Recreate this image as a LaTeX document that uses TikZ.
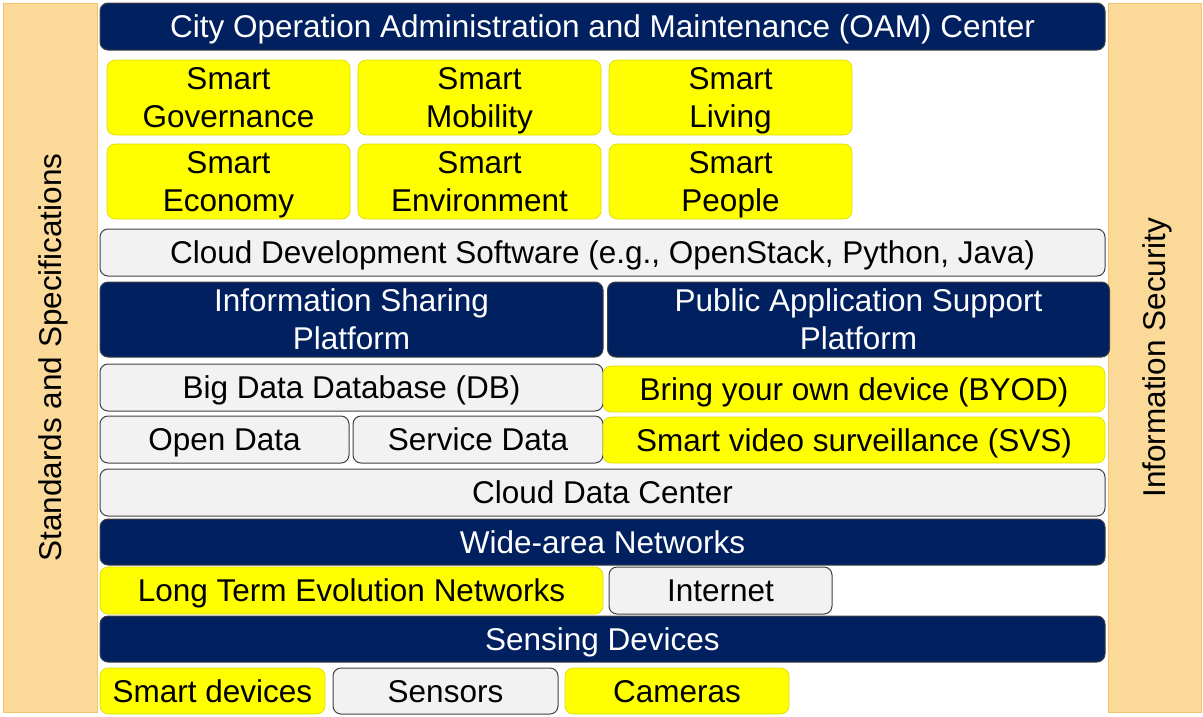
\documentclass[tikz,border=0pt]{standalone}
\usepackage{fontspec}
\setmainfont{Liberation Sans}
\definecolor{navy}{HTML}{002060}
\definecolor{brightyellow}{HTML}{FFFF00}
\definecolor{lightgray}{HTML}{F2F2F2}
\definecolor{darkline}{HTML}{404040}
\definecolor{peach}{HTML}{FBD998}
\definecolor{peachline}{HTML}{F2C46E}
\newcommand{\txt}{\fontsize{31.5}{38}\selectfont}

\begin{document}
\begin{tikzpicture}[x=1pt, y=-1pt,
  base/.style={rounded corners=8pt, align=center, inner sep=0pt, font=\txt, text depth=0pt},
  oneline/.style={text height=22.6pt},
  layer/.style={base, draw=darkline, line width=1pt, fill=navy, text=white},
  service/.style={base, draw=brightyellow!85!black, line width=0.6pt, fill=brightyellow},
  plain/.style={base, draw=darkline, line width=1pt, fill=lightgray},
  pillar/.style={draw=peachline, line width=0.8pt, fill=peach, font=\txt, rotate=90, inner sep=0pt,
    text height=22.6pt, text depth=0pt}]
  \useasboundingbox (0,0) rectangle (1203,716);
  % side pillars
  \node[pillar, minimum width=709pt, minimum height=94pt] (std) at (50,357.5) {Standards and Specifications};
  \node[pillar, minimum width=709pt, minimum height=93pt] (sec) at (1154.5,357.5) {Information Security};
  % applications
  \node[layer, oneline, minimum width=1005pt, minimum height=47pt] (oam) at (602.5,26.5) {City Operation Administration and Maintenance (OAM) Center};
  \node[service, minimum width=243pt, minimum height=75pt] (gov) at (228.5,97.5) {Smart\\Governance};
  \node[service, minimum width=243pt, minimum height=75pt] (mob) at (479.5,97.5) {Smart\\Mobility};
  \node[service, minimum width=243pt, minimum height=75pt] (liv) at (730.5,97.5) {Smart\\Living};
  \node[service, minimum width=243pt, minimum height=75pt] (eco) at (228.5,181.5) {Smart\\Economy};
  \node[service, minimum width=243pt, minimum height=75pt] (env) at (479.5,181.5) {Smart\\Environment};
  \node[service, minimum width=243pt, minimum height=75pt] (ppl) at (730.5,181.5) {Smart\\People};
  \node[plain, oneline, minimum width=1005pt, minimum height=47pt] (cds) at (602.5,252.5) {Cloud Development Software (e.g., OpenStack, Python, Java)};
  % platforms
  \node[layer, minimum width=503pt, minimum height=75pt] (isp) at (351.5,319.5) {Information Sharing\\Platform};
  \node[layer, minimum width=502pt, minimum height=75pt] (pas) at (858.5,319.5) {Public Application Support\\Platform};
  \node[plain, oneline, minimum width=503pt, minimum height=47pt] (bigdb) at (351.5,387.5) {Big Data Database (DB)};
  \node[service, oneline, minimum width=502pt, minimum height=46pt] (byod) at (854,389) {Bring your own device (BYOD)};
  \node[plain, oneline, minimum width=249pt, minimum height=47pt] (open) at (224.5,439.5) {Open Data};
  \node[plain, oneline, minimum width=250pt, minimum height=47pt] (serv) at (478,439.5) {Service Data};
  \node[service, oneline, minimum width=502pt, minimum height=46pt] (svs) at (854,440) {Smart video surveillance (SVS)};
  \node[plain, oneline, minimum width=1005pt, minimum height=47pt] (cdc) at (602.5,492.5) {Cloud Data Center};
  % networks
  \node[layer, oneline, minimum width=1005pt, minimum height=46pt] (wan) at (602.5,542) {Wide-area Networks};
  \node[service, oneline, minimum width=503pt, minimum height=47pt] (lte) at (351.5,590.5) {Long Term Evolution Networks};
  \node[plain, oneline, minimum width=223pt, minimum height=47pt] (inet) at (720.5,590.5) {Internet};
  % devices
  \node[layer, oneline, minimum width=1005pt, minimum height=46pt] (sens) at (602.5,639) {Sensing Devices};
  \node[service, oneline, minimum width=225pt, minimum height=46pt] (sdev) at (212.5,691) {Smart devices};
  \node[plain, oneline, minimum width=225pt, minimum height=46pt] (sensors) at (445.5,691) {Sensors};
  \node[service, oneline, minimum width=224pt, minimum height=46pt] (cams) at (677,691) {Cameras};
\end{tikzpicture}
\end{document}
